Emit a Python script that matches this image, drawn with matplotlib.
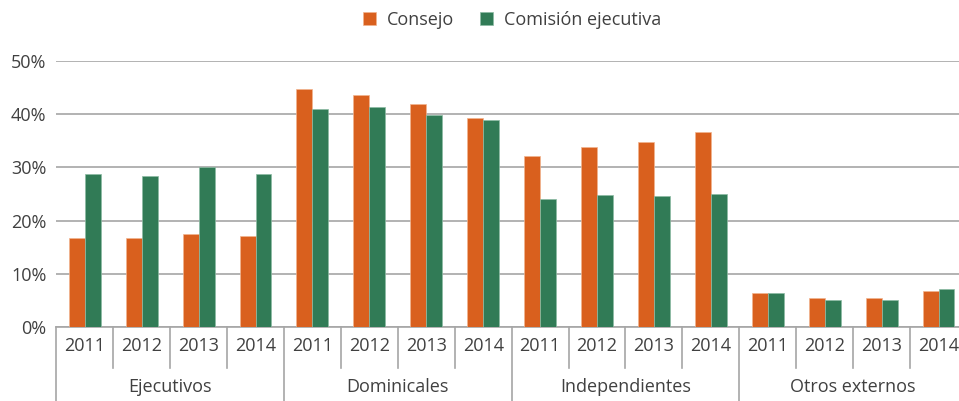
import matplotlib
matplotlib.use("Agg")
import matplotlib.pyplot as plt
import matplotlib.transforms as mtransforms
import numpy as np

plt.rcParams['font.family'] = ['Open Sans', 'DejaVu Sans']

groups = ["Ejecutivos", "Dominicales", "Independientes", "Otros externos"]
years = ["2011", "2012", "2013", "2014"]
consejo = [16.7, 16.8, 17.5, 17.1,
           44.7, 43.7, 42.0, 39.3,
           32.1, 33.9, 34.8, 36.6,
           6.3, 5.4, 5.4, 6.8]
comision = [28.7, 28.4, 30.0, 28.7,
            40.9, 41.3, 39.9, 38.9,
            24.1, 24.9, 24.6, 25.0,
            6.3, 5.1, 5.1, 7.1]
series_names = ["Consejo", "Comisión ejecutiva"]
yticks = [0, 10, 20, 30, 40, 50]

c_orange = "#D9601E"
c_green = "#317B56"
grid_c = "#A6A6A6"
text_c = "#404040"
fs = 13

W, H = 959, 401
fig = plt.figure(figsize=(W / 100, H / 100), dpi=100)
x0, x1 = 56.3, 967.0
y0, y1 = 327, 61
ax = fig.add_axes([x0 / W, 1 - y0 / H, (x1 - x0) / W, (y0 - y1) / H])

n = len(consejo)
x = np.arange(n)
bw = 0.28
ax.bar(x - bw / 2, consejo, bw, color=c_orange, edgecolor="#F2B48F", linewidth=0.5, label=series_names[0], zorder=3)
ax.bar(x + bw / 2, comision, bw, color=c_green, edgecolor="#8CBBA3", linewidth=0.5, label=series_names[1], zorder=3)

ax.set_xlim(-0.5, n - 0.5)
ax.set_ylim(0, 50)
ax.set_yticks(yticks)
ax.set_yticklabels([f"{v}%" for v in yticks], fontsize=fs, color=text_c)
ax.yaxis.grid(True, color=grid_c, linewidth=1.2, zorder=0)
ax.tick_params(axis='y', length=0, pad=7)
for s in ["left", "right", "top"]:
    ax.spines[s].set_visible(False)
ax.spines["bottom"].set_color(grid_c)
ax.spines["bottom"].set_linewidth(1.2)

ax.set_xticks(x)
ax.set_xticklabels(years * len(groups), fontsize=fs, color=text_c)
ax.tick_params(axis='x', length=0, pad=7)

trans = mtransforms.blended_transform_factory(ax.transData, ax.transAxes)
px = 1.0 / (y0 - y1)
for i in range(n + 1):
    xp = i - 0.5
    if i % 4 == 0:
        ax.plot([xp, xp], [0, -80 * px], transform=trans, color=grid_c, lw=1.2, clip_on=False)
    else:
        ax.plot([xp, xp], [0, -41 * px], transform=trans, color=grid_c, lw=1.2, clip_on=False)
for g, name in enumerate(groups):
    ax.text(g * 4 + 1.5, -60 * px, name, transform=trans, ha='center', va='center',
            fontsize=fs, color=text_c)

leg = fig.legend(loc='center', bbox_to_anchor=(512 / W, 1 - 20 / H), ncol=2, frameon=False,
                 fontsize=fs, handlelength=0.75, handleheight=0.75, columnspacing=1.4,
                 handletextpad=0.6, labelcolor=text_c)

fig.savefig("out.png", dpi=100)
